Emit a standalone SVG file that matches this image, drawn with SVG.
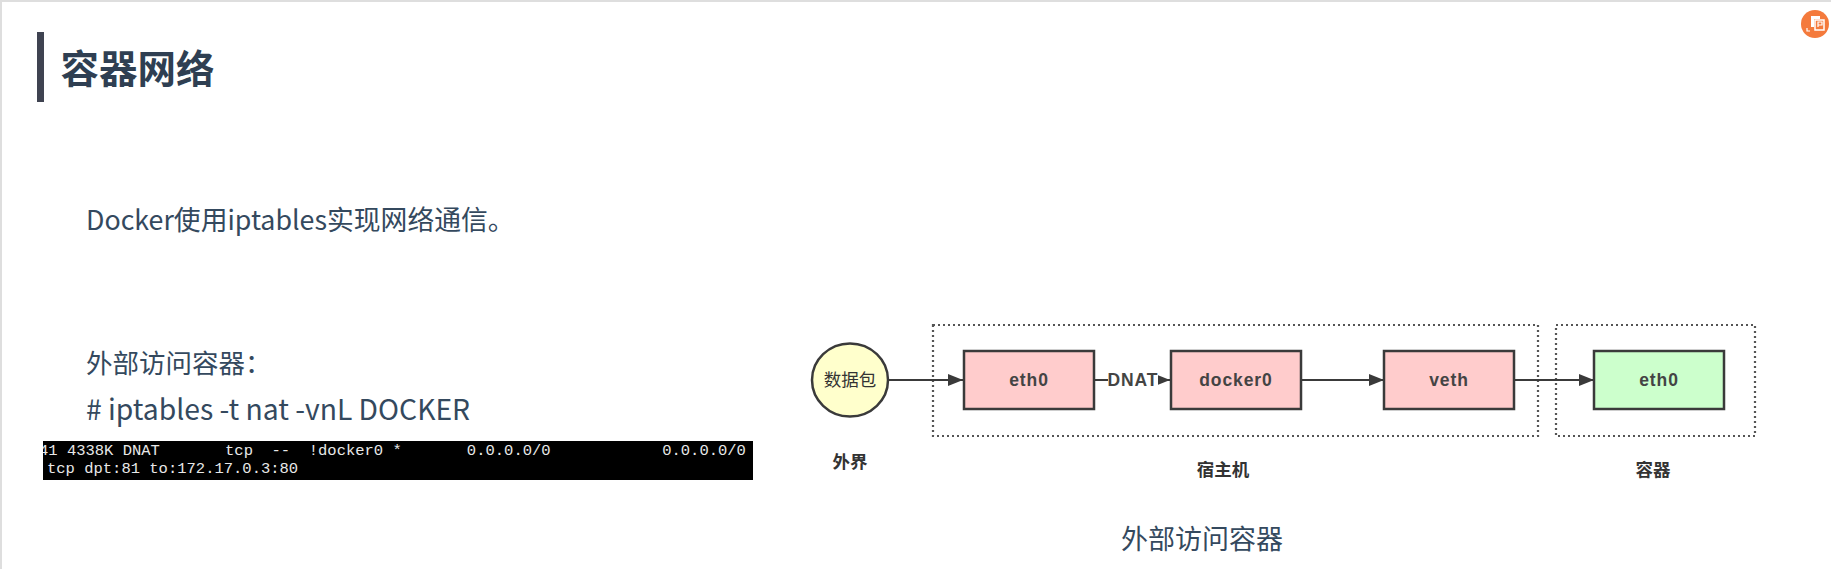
<svg xmlns="http://www.w3.org/2000/svg" width="1831" height="569" viewBox="0 0 1831 569">
<style>
.cn{font-family:"Noto Sans CJK SC","Noto Sans",sans-serif;fill:#34495e}
.box{stroke:#3a3a3a;stroke-width:2.5}
.red{fill:#ffcccc}
.lab{font-family:"Liberation Sans",Arial,sans-serif;font-weight:bold;font-size:17.5px;fill:#444;letter-spacing:.9px;text-anchor:middle}
.zone{fill:none;stroke:#555;stroke-width:2.2;stroke-dasharray:2 3}
.cap{font-family:"Noto Sans CJK SC",sans-serif;font-size:17.5px;font-weight:700;fill:#333;text-anchor:middle}
.term{font-family:"Liberation Mono",monospace;font-size:15.5px;fill:#e8e8e8;white-space:pre}
.conn{stroke:#3a3a3a;stroke-width:2;fill:none;marker-end:url(#arr)}
</style>
<defs>
<marker id="arr" markerUnits="userSpaceOnUse" markerWidth="16" markerHeight="12" refX="15" refY="6" orient="auto"><path d="M0 0L15 6L0 12Z" fill="#3a3a3a"/></marker>
<clipPath id="termclip"><rect x="43" y="441" width="710" height="39"/></clipPath>
</defs>
<rect width="1831" height="569" fill="#fff"/>
<rect width="1831" height="2" fill="#dedede"/>
<rect width="2" height="569" fill="#dedede"/>
<g id="heading">
<rect x="37" y="32" width="7" height="70" fill="#3f4351"/>
<text class="cn" x="60.5" y="83" font-size="38.5" font-weight="700" style="fill:#2f3f52">容器网络</text>
</g>
<text class="cn" x="86" y="230" font-size="26.8">Docker使用iptables实现网络通信。</text>
<text class="cn" x="86" y="373" font-size="26.5">外部访问容器：</text>
<text class="cn" x="86" y="420" font-size="28.3"># iptables -t nat -vnL DOCKER</text>
<g id="terminal">
<rect x="43" y="441" width="710" height="39" fill="#000"/>
<g clip-path="url(#termclip)">
<text class="term" x="39" y="455">41 4338K DNAT       tcp  --  !docker0 *       0.0.0.0/0            0.0.0.0/0</text>
<text class="term" x="47" y="473">tcp dpt:81 to:172.17.0.3:80</text>
</g>
</g>
<g id="zone-host"><rect class="zone" x="933" y="325" width="605" height="111"/></g>
<g id="zone-container"><rect class="zone" x="1556" y="325" width="199" height="111"/></g>
<g id="connectors">
<path class="conn" d="M888 380H963"/>
<path class="conn" d="M1094 380H1170"/>
<path class="conn" d="M1302 380H1384"/>
<path class="conn" d="M1514 380H1594"/>
<g id="dnat-label"><rect x="1108" y="370" width="50" height="20" fill="#fff"/>
<text class="lab" x="1133" y="386">DNAT</text></g>
</g>
<g id="packet">
<ellipse cx="850" cy="380" rx="38" ry="36.5" fill="#ffffcc" stroke="#3a3a3a" stroke-width="2.5"/>
<text x="850" y="386" font-family="Noto Sans CJK SC,sans-serif" font-size="17.5" fill="#333" text-anchor="middle">数据包</text>
</g>
<g id="eth0-host"><rect class="box red" x="964" y="351" width="130" height="58"/><text class="lab" x="1029" y="386">eth0</text></g>
<g id="docker0"><rect class="box red" x="1171" y="351" width="130" height="58"/><text class="lab" x="1236" y="386">docker0</text></g>
<g id="veth"><rect class="box red" x="1384" y="351" width="130" height="58"/><text class="lab" x="1449" y="386">veth</text></g>
<g id="eth0-container"><rect class="box" fill="#ccffcc" x="1594" y="351" width="130" height="58"/><text class="lab" x="1659" y="386">eth0</text></g>
<text class="cap" x="850" y="468">外界</text>
<text class="cap" x="1223" y="476">宿主机</text>
<text class="cap" x="1653" y="476">容器</text>
<text class="cn" x="1202" y="549" font-size="27" text-anchor="middle">外部访问容器</text>
<g id="badge">
<circle cx="1815" cy="24" r="14" fill="#f47a3c"/>
<path d="M1811 16h9v3h-6v8h-3z" fill="#fff"/>
<path d="M1815 20h9v10h-9z" fill="none" stroke="#fff" stroke-width="1.5"/>
<path d="M1818 27v-5h4v3h-4" fill="none" stroke="#fff" stroke-width="1.2"/>
<path d="M1807 28v3h3" fill="none" stroke="#fff" stroke-width="1.2"/>
</g>
</svg>
